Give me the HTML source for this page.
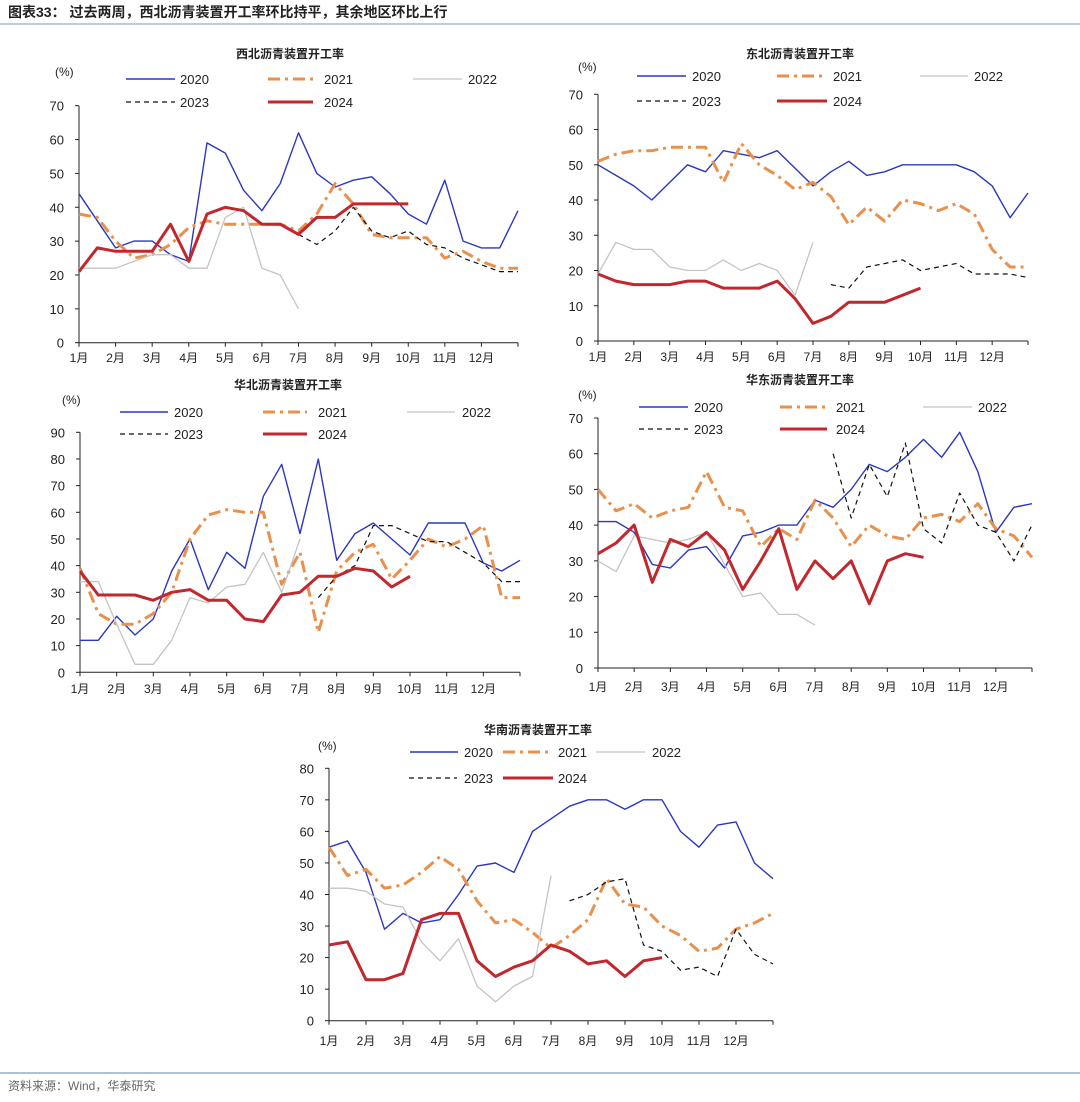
<!DOCTYPE html>
<html><head><meta charset="utf-8">
<style>
html,body{margin:0;padding:0;background:#fff;}
body{width:1080px;height:1097px;position:relative;overflow:hidden;font-family:"Liberation Sans","Noto Sans CJK SC",sans-serif;}
svg text{font-family:"Liberation Sans","Noto Sans CJK SC",sans-serif;}
</style></head>
<body>
<svg id="chart" width="1080" height="1097" viewBox="0 0 1080 1097" xmlns="http://www.w3.org/2000/svg">
<text x="8" y="17" font-size="14" font-weight="bold" fill="#222">图表33：  过去两周，西北沥青装置开工率环比持平，其余地区环比上行</text>
<line x1="0" y1="24" x2="1080" y2="24" stroke="#7f93b8" stroke-width="1"/>
<line x1="0" y1="1073" x2="1080" y2="1073" stroke="#5b7fb5" stroke-width="1"/>
<text x="8" y="1090" font-size="12" fill="#666">资料来源：Wind，华泰研究</text>
</svg>
<script>
const months = ['1月','2月','3月','4月','5月','6月','7月','8月','9月','10月','11月','12月'];
const years = ['2020','2021','2022','2023','2024'];
const _ = null;
// values sampled every half month (index i -> month i/2)
const nw2020 = [44,36,28,30,30,26,24,59,56,45,39,47,62,50,46,48,49,44,38,35,48,30,28,28,39];
const nw2021 = [38,37,30,25,26,29,34,36,35,35,35,35,33,38,47,41,32,31,31,31,25,27,24,22,22];
const nw2022 = [22,22,22,24,26,26,22,22,37,40,22,20,10];
const nw2023 = [_,_,_,_,_,_,_,_,_,_,_,_,32,29,33,40,33,31,33,29,28,25,23,21,21];
const nw2024 = [21,28,27,27,27,35,24,38,40,39,35,35,32,37,37,41,41,41,41];
const ne2020 = [50,47,44,40,45,50,48,54,53,52,54,49,44,48,51,47,48,50,50,50,50,48,44,35,42];
const ne2021 = [51,53,54,54,55,55,55,45,56,50,47,43,45,41,33,38,34,40,39,37,39,36,26,21,21];
const ne2022 = [19,28,26,26,21,20,20,23,20,22,20,13,28];
const ne2023 = [_,_,_,_,_,_,_,_,_,_,_,_,_,16,15,21,22,23,20,21,22,19,19,19,18];
const ne2024 = [19,17,16,16,16,17,17,15,15,15,17,12,5,7,11,11,11,13,15];
const nc2020 = [12,12,21,14,20,38,50,31,45,39,66,78,52,80,42,52,56,50,44,56,56,56,41,38,42];
const nc2021 = [39,22,18,18,22,30,50,59,61,60,60,33,45,15,38,45,48,35,42,50,47,50,55,28,28];
const nc2022 = [34,34,18,3,3,12,28,26,32,33,45,30,50];
const nc2023 = [_,_,_,_,_,_,_,_,_,_,_,_,_,28,36,40,55,55,52,49,49,45,41,34,34];
const nc2024 = [38,29,29,29,27,30,31,27,27,20,19,29,30,36,36,39,38,32,36];
const ec2020 = [41,41,38,29,28,33,34,28,37,38,40,40,47,45,50,57,55,59,64,59,66,55,38,45,46];
const ec2021 = [50,44,46,42,44,45,55,45,44,34,39,36,47,42,34,40,37,36,42,43,41,46,39,37,31];
const ec2022 = [30,27,37,36,35,36,38,29,20,21,15,15,12];
const ec2023 = [_,_,_,_,_,_,_,_,_,_,_,_,_,60,42,57,48,63,39,35,49,40,38,30,40];
const ec2024 = [32,35,40,24,36,34,38,33,22,30,39,22,30,25,30,18,30,32,31];
const sc2020 = [55,57,47,29,34,31,32,40,49,50,47,60,64,68,70,70,67,70,70,60,55,62,63,50,45];
const sc2021 = [55,46,48,42,43,47,52,48,38,31,32,28,23,27,32,45,37,36,30,27,22,23,29,31,34];
const sc2022 = [42,42,41,37,36,25,19,26,11,6,11,14,46];
const sc2023 = [_,_,_,_,_,_,_,_,_,_,_,_,_,38,40,44,45,24,22,16,17,14,29,21,18];
const sc2024 = [24,25,13,13,15,32,34,34,19,14,17,19,24,22,18,19,14,19,20];

const styles = [
  {c:'#2b37c0',w:1.4,d:''},
  {c:'#e8904c',w:3,d:'12,5,3,5'},
  {c:'#c4c4c4',w:1.3,d:''},
  {c:'#111',w:1.2,d:'5,4'},
  {c:'#c1272d',w:3,d:''}
];
const NS='http://www.w3.org/2000/svg';
const svg=document.getElementById('chart');
function mk(tag,attrs,parent){const e=document.createElementNS(NS,tag);for(const k in attrs)e.setAttribute(k,attrs[k]);(parent||svg).appendChild(e);return e;}

const panels=[
 {key:'northwest',title:'西北沥青装置开工率',tx:290,ty:58,px:55,py:76,x0:79,x1:518,yT:105.7,yB:342.7,ymax:70,my:362,
  series:[nw2020,nw2021,nw2022,nw2023,nw2024],
  leg:{r1:79,r2:102,cols:[[126,175,180],[268,313,324],[413,462,468]]}},
 {key:'northeast',title:'东北沥青装置开工率',tx:800,ty:58,px:578,py:71,x0:598,x1:1028,yT:94.3,yB:341,ymax:70,my:361,
  series:[ne2020,ne2021,ne2022,ne2023,ne2024],
  leg:{r1:76,r2:101,cols:[[637,686,692],[777,827,833],[920,968,974]]}},
 {key:'north-china',title:'华北沥青装置开工率',tx:288,ty:389,px:62,py:404,x0:80,x1:520,yT:432.3,yB:672.3,ymax:90,my:693,
  series:[nc2020,nc2021,nc2022,nc2023,nc2024],
  leg:{r1:412,r2:434,cols:[[120,168,174],[263,307,318],[407,455,462]]}},
 {key:'east-china',title:'华东沥青装置开工率',tx:800,ty:384,px:578,py:399,x0:598,x1:1032,yT:418,yB:668,ymax:70,my:691,
  series:[ec2020,ec2021,ec2022,ec2023,ec2024],
  leg:{r1:407,r2:429,cols:[[639,688,694],[780,827,836],[923,972,978]]}},
 {key:'south-china',title:'华南沥青装置开工率',tx:538,ty:734,px:318,py:750,x0:329,x1:773,yT:768.3,yB:1020.7,ymax:80,my:1045,
  series:[sc2020,sc2021,sc2022,sc2023,sc2024],
  leg:{r1:752,r2:778,cols:[[410,458,464],[503,548,558],[596,645,652]],row2:[[409,457,464],[503,553,558]]}}
];

panels.forEach(p=>{
  const g=mk('g',{});
  
  
  const xs=m=>p.x0+m/12*(p.x1-p.x0);
  const ys=v=>p.yB-v/p.ymax*(p.yB-p.yT);
  const t=mk('text',{x:p.tx,y:p.ty,'font-size':12,'font-weight':'bold','text-anchor':'middle',fill:'#222'},g);
  t.textContent=p.title;
  
  
  const u=mk('text',{x:p.px,y:p.py,'font-size':12,fill:'#222'},g);
  u.textContent='(%)';
  
  
  // y axis
  const ya=mk('line',{x1:p.x0,y1:p.yT,x2:p.x0,y2:p.yB,stroke:'#222','stroke-width':1},g);
  
  
  for(let v=0;v<=p.ymax;v+=10){
    mk('line',{x1:p.x0-4,y1:ys(v),x2:p.x0,y2:ys(v),stroke:'#222','stroke-width':1},g);
    const lt=mk('text',{x:p.x0-15,y:ys(v)+5,'font-size':13,'text-anchor':'end',fill:'#222'},g);
    lt.textContent=v;
    
    
  }
  const xa=mk('line',{x1:p.x0,y1:p.yB,x2:p.x1,y2:p.yB,stroke:'#222','stroke-width':1},g);
  
  
  for(let m=0;m<=12;m++){
    mk('line',{x1:xs(m),y1:p.yB,x2:xs(m),y2:p.yB+4,stroke:'#222','stroke-width':1},g);
  }
  months.forEach((lab,m)=>{
    const mt=mk('text',{x:xs(m),y:p.my,'font-size':12,'text-anchor':'middle',fill:'#222'},g);
    mt.textContent=lab;
    
    
  });
  // series
  p.series.forEach((arr,si)=>{
    const s=styles[si];
    let d='',pen=false;
    arr.forEach((v,i)=>{
      if(v===null){pen=false;return;}
      d+=(pen?'L':'M')+xs(i/2).toFixed(1)+','+ys(v).toFixed(1);
      pen=true;
    });
    const path=mk('path',{d:d,fill:'none',stroke:s.c,'stroke-width':s.w,'stroke-dasharray':s.d,'stroke-linejoin':'round'},g);
    
    
  });
  // legend
  const pos=[[p.leg.cols[0],p.leg.r1],[p.leg.cols[1],p.leg.r1],[p.leg.cols[2],p.leg.r1],
    [p.leg.row2?p.leg.row2[0]:p.leg.cols[0],p.leg.r2],[p.leg.row2?p.leg.row2[1]:p.leg.cols[1],p.leg.r2]];
  pos.forEach((q,si)=>{
    const s=styles[si];const c=q[0];const y=q[1];
    const lg=mk('g',{},g);
    
    
    mk('line',{x1:c[0],y1:y,x2:c[1],y2:y,stroke:s.c,'stroke-width':s.w,'stroke-dasharray':s.d},lg);
    const lt=mk('text',{x:c[2],y:y+5,'font-size':13,fill:'#222'},lg);
    lt.textContent=years[si];
  });
});
</script>
</body></html>
